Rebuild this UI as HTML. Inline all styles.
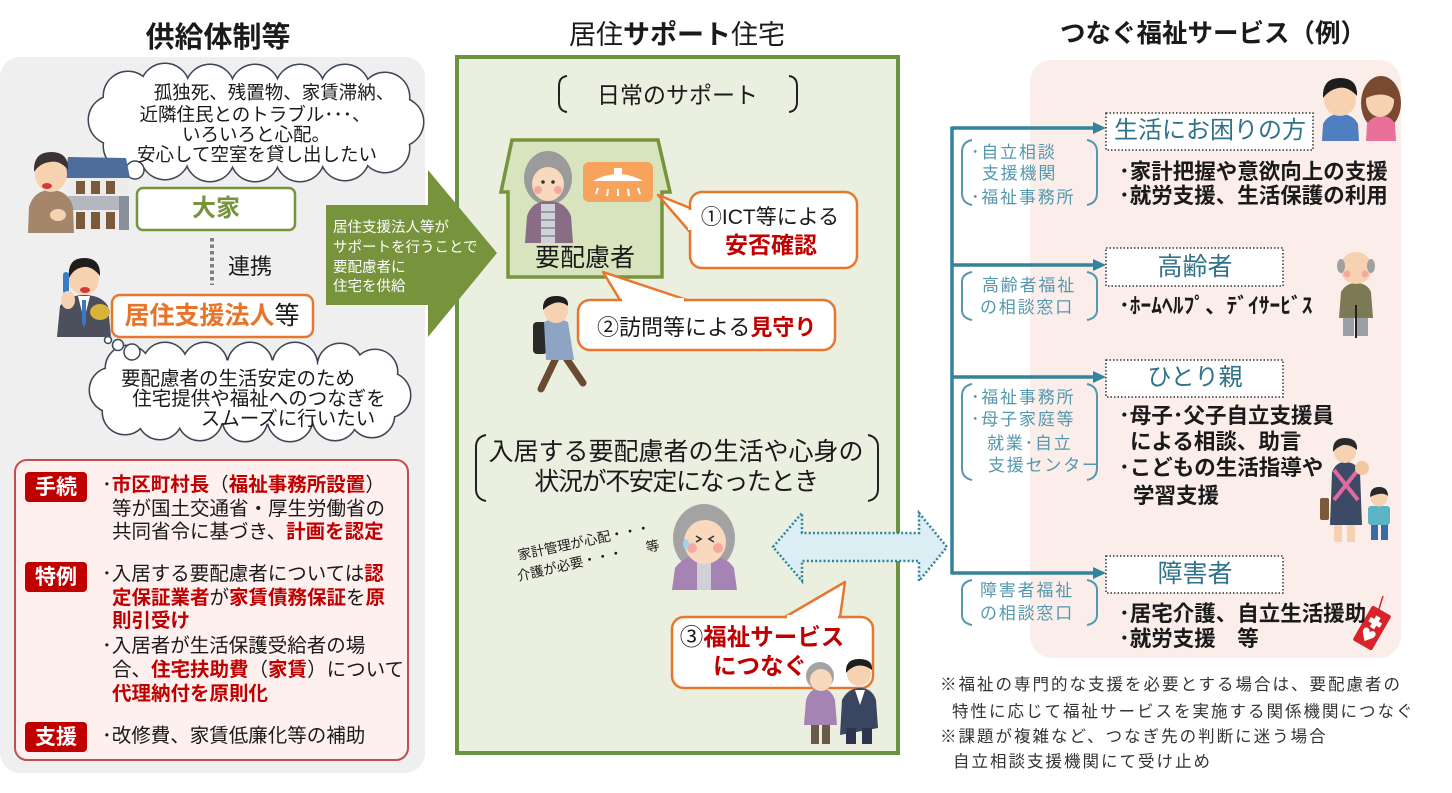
<!DOCTYPE html>
<html><head><meta charset="utf-8">
<style>
html,body{margin:0;padding:0;background:#fff;}
#w{position:relative;width:1452px;height:793px;overflow:hidden;background:#fff;font-family:"Liberation Sans","Noto Sans CJK JP",sans-serif;color:#1a1a1a;}
svg{position:absolute;left:0;top:0;}
.t{position:absolute;white-space:nowrap;line-height:1;}
.c{text-align:center;width:500px;}
.b{font-weight:bold;}
.r{color:#c00000;font-weight:bold;}
.tl{color:#2f7289;}
.lb{color:#5498ae;font-size:17px;letter-spacing:1.8px;}
.bl{font-size:21.5px;font-weight:bold;}
.fn{font-size:16.5px;letter-spacing:2px;color:#333;}
.rb{font-size:19.5px;}
.lbl{color:#fff;font-weight:bold;font-size:21px;width:62px;text-align:center;}
</style></head><body><div id="w">
<svg width="1452" height="793" viewBox="0 0 1452 793">
<!-- panels -->
<rect x="0" y="57" width="425" height="716" rx="20" fill="#efefef"/>
<rect x="1030" y="60" width="371" height="598" rx="22" fill="#fbeeea"/>
<rect x="457" y="57" width="441" height="696" fill="#ebefe0" stroke="#6b9440" stroke-width="4"/>

<!-- red box -->
<rect x="15" y="460" width="393" height="300" rx="12" fill="#fdf0ee" stroke="#c0504d" stroke-width="2"/>
<rect x="25" y="472" width="62" height="30" rx="4" fill="#c00000"/>
<rect x="25" y="562" width="62" height="30" rx="4" fill="#c00000"/>
<rect x="25" y="722" width="62" height="30" rx="4" fill="#c00000"/>

<!-- cloud 1 -->
<g stroke="#3c4654" stroke-width="3" fill="none">
<ellipse cx="256" cy="122" rx="135" ry="38"/>
<circle cx="113" cy="120" r="24"/><circle cx="128" cy="96" r="24"/><circle cx="165" cy="88" r="24"/><circle cx="210" cy="89" r="24"/><circle cx="255" cy="89" r="24"/><circle cx="300" cy="89" r="24"/><circle cx="345" cy="89" r="24"/><circle cx="385" cy="97" r="24"/><circle cx="399" cy="122" r="24"/><circle cx="385" cy="148" r="24"/><circle cx="345" cy="156" r="24"/><circle cx="300" cy="157" r="24"/><circle cx="255" cy="157" r="24"/><circle cx="210" cy="157" r="24"/><circle cx="165" cy="155" r="24"/><circle cx="128" cy="146" r="24"/>
</g>
<g fill="#fff">
<ellipse cx="256" cy="122" rx="135" ry="38"/>
<circle cx="113" cy="120" r="24"/><circle cx="128" cy="96" r="24"/><circle cx="165" cy="88" r="24"/><circle cx="210" cy="89" r="24"/><circle cx="255" cy="89" r="24"/><circle cx="300" cy="89" r="24"/><circle cx="345" cy="89" r="24"/><circle cx="385" cy="97" r="24"/><circle cx="399" cy="122" r="24"/><circle cx="385" cy="148" r="24"/><circle cx="345" cy="156" r="24"/><circle cx="300" cy="157" r="24"/><circle cx="255" cy="157" r="24"/><circle cx="210" cy="157" r="24"/><circle cx="165" cy="155" r="24"/><circle cx="128" cy="146" r="24"/>
</g>
<g fill="#fff" stroke="#3c4654" stroke-width="1.5">
<circle cx="135" cy="170" r="9"/><circle cx="119" cy="181" r="6"/><circle cx="108" cy="187" r="4"/>
</g>

<!-- cloud 2 -->
<g stroke="#3c4654" stroke-width="3" fill="none">
<ellipse cx="250" cy="392" rx="130" ry="32"/>
<circle cx="112" cy="390" r="22"/><circle cx="128" cy="368" r="22"/><circle cx="165" cy="365" r="22"/><circle cx="205" cy="365" r="22"/><circle cx="250" cy="365" r="22"/><circle cx="295" cy="365" r="22"/><circle cx="340" cy="366" r="22"/><circle cx="375" cy="372" r="22"/><circle cx="388" cy="395" r="22"/><circle cx="372" cy="415" r="22"/><circle cx="335" cy="418" r="22"/><circle cx="290" cy="419" r="22"/><circle cx="245" cy="419" r="22"/><circle cx="200" cy="418" r="22"/><circle cx="160" cy="417" r="22"/><circle cx="125" cy="412" r="22"/>
</g>
<g fill="#fff">
<ellipse cx="250" cy="392" rx="130" ry="32"/>
<circle cx="112" cy="390" r="22"/><circle cx="128" cy="368" r="22"/><circle cx="165" cy="365" r="22"/><circle cx="205" cy="365" r="22"/><circle cx="250" cy="365" r="22"/><circle cx="295" cy="365" r="22"/><circle cx="340" cy="366" r="22"/><circle cx="375" cy="372" r="22"/><circle cx="388" cy="395" r="22"/><circle cx="372" cy="415" r="22"/><circle cx="335" cy="418" r="22"/><circle cx="290" cy="419" r="22"/><circle cx="245" cy="419" r="22"/><circle cx="200" cy="418" r="22"/><circle cx="160" cy="417" r="22"/><circle cx="125" cy="412" r="22"/>
</g>
<g fill="#fff" stroke="#3c4654" stroke-width="1.5">
<circle cx="132" cy="352" r="8"/><circle cx="118" cy="345" r="5.5"/><circle cx="108" cy="340" r="3.5"/>
</g>

<!-- 大家 box / 居住支援法人 box -->
<rect x="137" y="188" width="158" height="42" rx="6" fill="#fff" stroke="#77933c" stroke-width="2.5"/>
<line x1="212" y1="238" x2="212" y2="285" stroke="#7f7f7f" stroke-width="4" stroke-dasharray="3.5 3"/>
<rect x="112" y="295" width="201" height="42" rx="8" fill="#fff" stroke="#e8772e" stroke-width="2.5"/>

<!-- landlord + building -->
<polygon points="68,157 126,158 130,178 65,178" fill="#4d6d9a"/>
<rect x="68" y="178" width="60" height="52" fill="#ececec"/>
<rect x="68" y="196" width="52" height="14" fill="#b3b8c0"/>
<g fill="#7a5a3a"><rect x="76" y="181" width="9" height="13"/><rect x="91" y="181" width="9" height="13"/><rect x="106" y="181" width="9" height="13"/><rect x="76" y="212" width="9" height="17"/><rect x="91" y="212" width="9" height="17"/><rect x="106" y="212" width="9" height="17"/></g>
<rect x="119" y="196" width="10" height="34" fill="#8a9099"/>
<path d="M28 233 L29 207 Q34 190 51 190 Q68 190 73 207 L74 233 Z" fill="#a5866a"/>
<ellipse cx="51" cy="174" rx="16" ry="18" fill="#f7d2b0"/>
<path d="M34 172 Q33 152 51 152 Q69 152 68 170 Q60 160 50 162 Q40 163 34 172Z" fill="#3b3232"/>
<ellipse cx="47" cy="186" rx="5" ry="3" fill="#d23a3a"/>
<ellipse cx="58" cy="215" rx="8" ry="6" fill="#f7d2b0"/>

<!-- businessman -->
<path d="M57 337 L60 306 Q68 295 84 295 Q101 295 108 306 L111 337 Z" fill="#4b505c"/>
<polygon points="78,296 90,296 84,320" fill="#fff"/>
<polygon points="82,300 86,300 86,322 84,328 82,322" fill="#3a78c4"/>
<circle cx="84" cy="280" r="15" fill="#f7d2b0"/>
<path d="M69 278 Q67 258 84 258 Q101 258 100 276 Q92 266 84 267 Q74 268 69 278Z" fill="#1e1e1e"/>
<ellipse cx="85" cy="290" rx="5" ry="3" fill="#d23a3a"/>
<rect x="63" y="272" width="6" height="22" rx="3" fill="#3b7dc4"/>
<ellipse cx="68" cy="300" rx="7" ry="9" fill="#f7d2b0"/>
<ellipse cx="100" cy="312" rx="10" ry="8" fill="#d8b23a"/>

<!-- green arrow -->
<polygon points="326,205 428,205 428,170 497,253 428,337 428,305 326,305" fill="#77933c"/>

<!-- middle brackets -->
<g fill="none" stroke="#222" stroke-width="2">
<path d="M567 76 Q559 77 559 86 L559 102 Q559 111 567 112"/>
<path d="M789 76 Q797 77 797 86 L797 102 Q797 111 789 112"/>
<path d="M486 435 Q476 437 476 447 L476 489 Q476 499 486 501"/>
<path d="M868 435 Q878 437 878 447 L878 489 Q878 499 868 501"/>
</g>

<!-- house -->
<polygon points="512,140 658,140 670,192 662,192 662,277 508,277 508,192 501,192" fill="#d7e4bd" stroke="#77933c" stroke-width="3.5" stroke-linejoin="miter"/>
<!-- grandma in house -->
<ellipse cx="548" cy="178" rx="24" ry="27" fill="#9b9b9b"/>
<path d="M525 243 L527 216 Q532 201 548 201 Q565 201 571 216 L573 243 Z" fill="#8b6c86"/>
<rect x="541" y="204" width="14" height="39" fill="#d0d0d8"/>
<g stroke="#9a9aa6" stroke-width="2"><line x1="541" y1="212" x2="555" y2="212"/><line x1="541" y1="220" x2="555" y2="220"/><line x1="541" y1="228" x2="555" y2="228"/><line x1="541" y1="236" x2="555" y2="236"/></g>
<ellipse cx="548" cy="184" rx="16" ry="17" fill="#f9d9bd"/>
<circle cx="538" cy="190" r="4" fill="#f4a9a0"/><circle cx="558" cy="190" r="4" fill="#f4a9a0"/>
<circle cx="543" cy="182" r="1.8" fill="#333"/><circle cx="553" cy="182" r="1.8" fill="#333"/>
<!-- sensor -->
<rect x="583" y="162" width="70" height="40" rx="6" fill="#f7a35c"/>
<path d="M593 181 Q618 167 643 181 Z" fill="#fff"/>
<rect x="614" y="168" width="8" height="6" fill="#fff"/>
<g stroke="#fff" stroke-width="2"><line x1="598" y1="188" x2="596" y2="194"/><line x1="608" y1="189" x2="607" y2="196"/><line x1="618" y1="189" x2="618" y2="196"/><line x1="628" y1="189" x2="629" y2="196"/><line x1="638" y1="188" x2="640" y2="194"/></g>

<!-- callout 1 -->
<rect x="690" y="192" width="167" height="76" rx="12" fill="#fff" stroke="#e8772e" stroke-width="2.5"/>
<polygon points="690,208 658,195 690,232" fill="#fff" stroke="#e8772e" stroke-width="2.5" stroke-linejoin="round"/>
<line x1="690" y1="210" x2="690" y2="230" stroke="#fff" stroke-width="4"/>

<!-- walking man -->
<g stroke="#6a4a30" stroke-width="7" stroke-linecap="round"><line x1="556" y1="358" x2="541" y2="389"/><line x1="566" y1="358" x2="583" y2="383"/></g>
<rect x="533" y="322" width="14" height="32" rx="4" fill="#2a2a2a"/>
<path d="M544 322 Q556 316 568 322 L574 360 L546 360 Z" fill="#8ea4c4"/>
<circle cx="556" cy="311" r="12" fill="#f7d2b0"/>
<path d="M543 310 Q542 296 556 296 Q569 296 568 306 Q560 300 552 304 Q547 306 543 310Z" fill="#1e1e1e"/>

<!-- callout 2 -->
<rect x="578" y="300" width="257" height="50" rx="12" fill="#fff" stroke="#e8772e" stroke-width="2.5"/>
<polygon points="620,300 603,272 687,300" fill="#fff" stroke="#e8772e" stroke-width="2.5" stroke-linejoin="round"/>
<line x1="622" y1="300" x2="684" y2="300" stroke="#fff" stroke-width="4"/>

<!-- worried grandma -->
<ellipse cx="704" cy="538" rx="31" ry="34" fill="#a3a3a3"/>
<path d="M672 590 L675 568 Q684 555 704 555 Q726 555 734 568 L737 590 Z" fill="#a584b4"/>
<rect x="697" y="560" width="14" height="30" fill="#d0d0d8"/>
<ellipse cx="705" cy="542" rx="21" ry="22" fill="#f9d9bd"/>
<circle cx="692" cy="548" r="5" fill="#f4a9a0"/><circle cx="718" cy="548" r="5" fill="#f4a9a0"/>
<path d="M696 536 l5 3 l-5 3 M714 536 l-5 3 l5 3" stroke="#333" stroke-width="1.6" fill="none"/>
<ellipse cx="686" cy="544" rx="3" ry="5" fill="#9fd3ef"/>

<!-- double arrow -->
<polygon points="773,547 802,513 802,533 919,533 919,513 947,547 919,581 919,561 802,561 802,581" fill="#daeef3" stroke="#31849b" stroke-width="2.5" stroke-dasharray="2 2.2"/>

<!-- callout 3 -->
<rect x="672" y="617" width="201" height="71" rx="12" fill="#fff" stroke="#e8772e" stroke-width="2.5"/>
<polygon points="785,617 845,582 840,617" fill="#fff" stroke="#e8772e" stroke-width="2.5" stroke-linejoin="round"/>
<line x1="787" y1="617" x2="838" y2="617" stroke="#fff" stroke-width="4"/>

<!-- two people -->
<rect x="811" y="722" width="8" height="22" fill="#6a5a4a"/><rect x="822" y="722" width="8" height="22" fill="#6a5a4a"/>
<path d="M804 725 L806 700 Q810 688 820 688 Q831 688 835 700 L837 725 Z" fill="#a584b4"/>
<circle cx="820" cy="676" r="14" fill="#a3a3a3"/>
<circle cx="821" cy="680" r="11" fill="#f9d9bd"/>
<path d="M840 735 L842 700 Q848 688 860 688 Q872 688 876 700 L878 728 Z" fill="#3a4560"/>
<polygon points="855,690 865,690 860,705" fill="#fff"/>
<rect x="846" y="728" width="10" height="16" fill="#2e3550"/><rect x="862" y="728" width="10" height="16" fill="#2e3550"/>
<circle cx="859" cy="674" r="12" fill="#f7d2b0"/>
<path d="M846 673 Q845 659 859 659 Q873 659 872 670 Q864 664 856 666 Q850 668 846 673Z" fill="#1e1e1e"/>

<!-- right side connectors -->
<g stroke="#31849b" stroke-width="3.5" fill="none">
<line x1="952" y1="126.5" x2="952" y2="574.5"/>
<line x1="952" y1="128" x2="1096" y2="128"/>
<line x1="952" y1="265" x2="1096" y2="265"/>
<line x1="952" y1="377" x2="1096" y2="377"/>
<line x1="952" y1="573" x2="1096" y2="573"/>
</g>
<g fill="#31849b">
<polygon points="1093,122 1106,128 1093,134"/>
<polygon points="1093,259 1106,265 1093,271"/>
<polygon points="1093,371 1106,377 1093,383"/>
<polygon points="1093,567 1106,573 1093,579"/>
</g>
<g fill="#fff" stroke="#333" stroke-width="1.5" stroke-dasharray="1.5 2">
<rect x="1106" y="113" width="207" height="37"/>
<rect x="1106" y="248" width="177" height="38"/>
<rect x="1106" y="360" width="177" height="37"/>
<rect x="1106" y="556" width="177" height="37"/>
</g>
<g fill="none" stroke="#5498ae" stroke-width="2">
<path d="M972 140 Q962 142 962 152 L962 193 Q962 203 972 205"/>
<path d="M1087 140 Q1097 142 1097 152 L1097 193 Q1097 203 1087 205"/>
<path d="M972 272 Q962 274 962 282 L962 310 Q962 318 972 320"/>
<path d="M1087 272 Q1097 274 1097 282 L1097 310 Q1097 318 1087 320"/>
<path d="M972 384 Q962 386 962 396 L962 468 Q962 478 972 480"/>
<path d="M1087 384 Q1097 386 1097 396 L1097 468 Q1097 478 1087 480"/>
<path d="M972 580 Q962 582 962 590 L962 615 Q962 623 972 625"/>
<path d="M1087 580 Q1097 582 1097 590 L1097 615 Q1097 623 1087 625"/>
</g>

<!-- couple -->
<path d="M1322 141 L1323 124 Q1328 114 1340 114 Q1353 114 1358 124 L1359 141 Z" fill="#4f7fc0"/>
<circle cx="1340" cy="100" r="16" fill="#f7d2b0"/>
<path d="M1323 98 Q1322 78 1340 78 Q1358 78 1357 96 Q1348 86 1338 88 Q1329 90 1323 98Z" fill="#1e1e1e"/>
<ellipse cx="1381" cy="103" rx="20" ry="27" fill="#7a4a30"/>
<path d="M1366 141 L1367 124 Q1372 116 1381 116 Q1391 116 1395 124 L1396 141 Z" fill="#e8709a"/>
<ellipse cx="1380" cy="101" rx="14" ry="16" fill="#f7d2b0"/>
<path d="M1366 98 Q1370 82 1384 84 Q1394 88 1395 100 Q1384 90 1366 98Z" fill="#7a4a30"/>

<!-- old man -->
<rect x="1343" y="312" width="11" height="24" fill="#9aa0a8"/><rect x="1357" y="312" width="11" height="24" fill="#9aa0a8"/>
<path d="M1339 318 L1341 292 Q1346 283 1356 283 Q1367 283 1371 292 L1373 318 Z" fill="#7c7a55"/>
<line x1="1356" y1="305" x2="1356" y2="338" stroke="#222" stroke-width="2"/>
<circle cx="1356" cy="268" r="16" fill="#f7d2b0"/>
<ellipse cx="1341" cy="266" rx="4" ry="7" fill="#a0a0a0"/><ellipse cx="1371" cy="266" rx="4" ry="7" fill="#a0a0a0"/>
<circle cx="1347" cy="274" r="3.5" fill="#f4a9a0"/><circle cx="1365" cy="274" r="3.5" fill="#f4a9a0"/>

<!-- mother and child -->
<rect x="1334" y="520" width="8" height="22" fill="#f7d2b0"/><rect x="1347" y="520" width="8" height="22" fill="#f7d2b0"/>
<path d="M1330 525 L1332 472 Q1336 462 1345 462 Q1356 462 1360 472 L1362 525 Z" fill="#3d4a66"/>
<path d="M1334 470 L1358 500 M1358 470 L1334 500" stroke="#e06aa0" stroke-width="4"/>
<rect x="1320" y="498" width="9" height="22" rx="2" fill="#7a5a3a"/>
<circle cx="1345" cy="452" r="11" fill="#f7d2b0"/>
<path d="M1333 452 Q1332 438 1345 438 Q1358 438 1357 450 Q1350 444 1343 445 Q1337 447 1333 452Z" fill="#2a2a2a"/>
<circle cx="1362" cy="468" r="7" fill="#f3c8a0"/>
<rect x="1371" y="523" width="7" height="17" fill="#3a6aa8"/><rect x="1381" y="523" width="7" height="17" fill="#3a6aa8"/>
<rect x="1368" y="506" width="22" height="19" rx="3" fill="#5ab4c6"/>
<circle cx="1379" cy="498" r="8.5" fill="#f7d2b0"/>
<path d="M1370 497 Q1370 487 1379 487 Q1388 487 1388 496 Q1382 491 1370 497Z" fill="#2a2a2a"/>

<!-- help mark charm -->
<line x1="1383" y1="596" x2="1378" y2="612" stroke="#d8232a" stroke-width="1.5"/>
<g transform="translate(1372 628) rotate(30)">
<rect x="-11" y="-20" width="22" height="40" rx="2" fill="#d8232a"/>
<rect x="-2.5" y="-13" width="5" height="13" fill="#fff"/><rect x="-6.5" y="-9" width="13" height="5" fill="#fff"/>
<path d="M0 15 L-6 8 Q-8 3 -4 2 Q-1 2 0 5 Q1 2 4 2 Q8 3 6 8 Z" fill="#fff"/>
</g>
</svg>

<!-- LEFT texts -->
<div class="t c b" style="left:-32px;top:23.5px;font-size:29px;">供給体制等</div>
<div class="t c" style="left:24px;top:84px;font-size:18.5px;">孤独死、残置物、家賃滞納、</div>
<div class="t c" style="left:5px;top:106px;font-size:18.5px;">近隣住民とのトラブル･･･、</div>
<div class="t c" style="left:6px;top:126px;font-size:18.5px;">いろいろと心配。</div>
<div class="t c" style="left:7px;top:146px;font-size:18.5px;">安心して空室を貸し出したい</div>
<div class="t c b" style="left:-34px;top:197px;font-size:24px;color:#77933c;">大家</div>
<div class="t" style="left:228px;top:256px;font-size:22px;">連携</div>
<div class="t c" style="left:-38px;top:303.5px;font-size:25px;"><span style="color:#e8742a;font-weight:bold;">居住支援法人</span>等</div>
<div class="t c" style="left:-12px;top:370px;font-size:19.5px;">要配慮者の生活安定のため</div>
<div class="t c" style="left:9px;top:390px;font-size:19.5px;">住宅提供や福祉へのつなぎを</div>
<div class="t c" style="left:38px;top:410px;font-size:19.5px;">スムーズに行いたい</div>

<div class="t lbl" style="left:25px;top:476.5px;">手続</div>
<div class="t lbl" style="left:25px;top:566.5px;">特例</div>
<div class="t lbl" style="left:25px;top:726.5px;">支援</div>
<div class="t rb" style="left:102px;top:476px;">･<span class="r">市区町村長</span>（<span class="r">福祉事務所設置</span>）</div>
<div class="t rb" style="left:112px;top:500px;">等が国土交通省・厚生労働省の</div>
<div class="t rb" style="left:112px;top:523px;">共同省令に基づき、<span class="r">計画を認定</span></div>
<div class="t rb" style="left:102px;top:565px;">･入居する要配慮者については<span class="r">認</span></div>
<div class="t rb" style="left:112px;top:589px;"><span class="r">定保証業者</span>が<span class="r">家賃債務保証</span>を<span class="r">原</span></div>
<div class="t rb" style="left:112px;top:612px;"><span class="r">則引受け</span></div>
<div class="t rb" style="left:102px;top:637px;">･入居者が生活保護受給者の場</div>
<div class="t rb" style="left:112px;top:661px;">合、<span class="r">住宅扶助費</span>（<span class="r">家賃</span>）について</div>
<div class="t rb" style="left:112px;top:685px;"><span class="r">代理納付を原則化</span></div>
<div class="t rb" style="left:102px;top:727px;">･改修費、家賃低廉化等の補助</div>

<!-- arrow text -->
<div class="t" style="left:333px;top:221px;font-size:14.5px;color:#fff;">居住支援法人等が</div>
<div class="t" style="left:333px;top:241px;font-size:14.5px;color:#fff;">サポートを行うことで</div>
<div class="t" style="left:333px;top:261px;font-size:14.5px;color:#fff;">要配慮者に</div>
<div class="t" style="left:333px;top:280px;font-size:14.5px;color:#fff;">住宅を供給</div>

<!-- MIDDLE texts -->
<div class="t c" style="left:427px;top:21.5px;font-size:27px;font-weight:bold;"><span style="font-weight:normal">居住</span>サポート<span style="font-weight:normal">住宅</span></div>
<div class="t" style="left:597px;top:83.5px;font-size:23px;">日常のサポート</div>
<div class="t c" style="left:335px;top:245.5px;font-size:25px;">要配慮者</div>
<div class="t c" style="left:520px;top:206.5px;font-size:21px;">①ICT等による</div>
<div class="t c r" style="left:521px;top:233.5px;font-size:23px;">安否確認</div>
<div class="t" style="left:597px;top:317px;font-size:22px;">②訪問等による<span class="r">見守り</span></div>
<div class="t c" style="left:426px;top:439.5px;font-size:25px;">入居する要配慮者の生活や心身の</div>
<div class="t c" style="left:426px;top:469.5px;font-size:25px;letter-spacing:-1.4px;">状況が不安定になったとき</div>
<div class="t" style="left:514px;top:535px;width:140px;text-align:center;font-size:13.5px;transform:rotate(-12deg);">家計管理が心配・・・</div>
<div class="t" style="left:516px;top:558px;width:108px;text-align:center;font-size:13.5px;transform:rotate(-13deg);">介護が必要・・・</div>
<div class="t" style="left:646px;top:540px;font-size:13.5px;transform:rotate(-12deg);">等</div>
<div class="t c" style="left:512px;top:626px;font-size:23.5px;">③<span class="r">福祉サービス</span></div>
<div class="t c r" style="left:510px;top:655px;font-size:23.5px;">につなぐ</div>

<!-- RIGHT texts -->
<div class="t c b" style="left:963px;top:22px;font-size:25.5px;">つなぐ福祉サービス（例）</div>
<div class="t c tl" style="left:960px;top:119px;font-size:24px;">生活にお困りの方</div>
<div class="t c tl" style="left:945px;top:254.5px;font-size:25px;">高齢者</div>
<div class="t c tl" style="left:945px;top:366px;font-size:24px;">ひとり親</div>
<div class="t c tl" style="left:945px;top:561.5px;font-size:25px;">障害者</div>

<div class="t lb" style="left:971px;top:143.5px;">･自立相談</div>
<div class="t lb" style="left:982px;top:164.5px;">支援機関</div>
<div class="t lb" style="left:971px;top:188.5px;">･福祉事務所</div>
<div class="t lb" style="left:982px;top:276.5px;">高齢者福祉</div>
<div class="t lb" style="left:980px;top:298.5px;">の相談窓口</div>
<div class="t lb" style="left:971px;top:388.5px;">･福祉事務所</div>
<div class="t lb" style="left:971px;top:410.5px;">･母子家庭等</div>
<div class="t lb" style="left:987px;top:434.5px;">就業･自立</div>
<div class="t lb" style="left:988px;top:456.5px;">支援センター</div>
<div class="t lb" style="left:980px;top:581.5px;">障害者福祉</div>
<div class="t lb" style="left:980px;top:604.5px;">の相談窓口</div>

<div class="t bl" style="left:1119px;top:162px;">･家計把握や意欲向上の支援</div>
<div class="t bl" style="left:1119px;top:186px;">･就労支援、生活保護の利用</div>
<div class="t bl" style="left:1119px;top:296px;">･ﾎｰﾑﾍﾙﾌﾟ、ﾃﾞｲｻｰﾋﾞｽ</div>
<div class="t bl" style="left:1119px;top:406px;">･母子･父子自立支援員</div>
<div class="t bl" style="left:1130px;top:432px;">による相談、助言</div>
<div class="t bl" style="left:1119px;top:458px;">･こどもの生活指導や</div>
<div class="t bl" style="left:1133px;top:486px;">学習支援</div>
<div class="t bl" style="left:1119px;top:604px;">･居宅介護、自立生活援助</div>
<div class="t bl" style="left:1119px;top:629px;">･就労支援　等</div>

<div class="t fn" style="left:940px;top:677px;">※福祉の専門的な支援を必要とする場合は、要配慮者の</div>
<div class="t fn" style="left:952px;top:704px;">特性に応じて福祉サービスを実施する関係機関につなぐ</div>
<div class="t fn" style="left:940px;top:729px;">※課題が複雑など、つなぎ先の判断に迷う場合</div>
<div class="t fn" style="left:953px;top:754px;">自立相談支援機関にて受け止め</div>
</div></body></html>
